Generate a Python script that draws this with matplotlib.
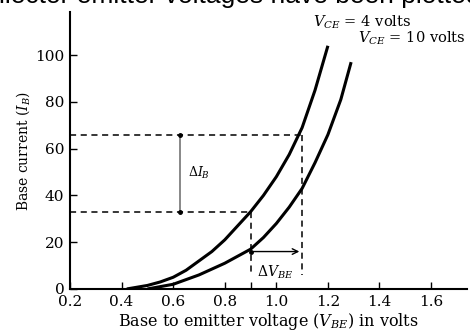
import matplotlib
matplotlib.use("Agg")
import matplotlib.pyplot as plt

# data
vbe_4 = [0.42, 0.50, 0.55, 0.60, 0.65, 0.70, 0.75, 0.80, 0.85, 0.90, 0.95, 1.00, 1.05, 1.10, 1.15, 1.20]
ib_4 = [0, 1.5, 3, 5, 8, 12, 16, 21, 27, 33, 40, 48, 57.5, 69, 85, 104]
vbe_10 = [0.50, 0.55, 0.60, 0.65, 0.70, 0.75, 0.80, 0.85, 0.90, 0.95, 1.00, 1.05, 1.10, 1.15, 1.20, 1.25, 1.29]
ib_10 = [0, 1, 2, 4, 6, 8.5, 11, 14, 17, 22, 28, 35, 43, 54, 66, 81, 97]
x_ticks = [0.2, 0.4, 0.6, 0.8, 1.0, 1.2, 1.4, 1.6]
x_tick_labels = ["0.2", "0.4", "0.6", "0.8", "1.0", "1.2", "1.4", "1.6"]
y_ticks = [0, 20, 40, 60, 80, 100]
y_tick_labels = ["0", "20", "40", "60", "80", "100"]
v_lo, v_hi = 0.9, 1.1
ib_lo, ib_hi = 33, 66
ib_arrow = 16
x_delta_ib = 0.627

plt.rcParams['font.family'] = ['DejaVu Serif']
plt.rcParams['mathtext.fontset'] = 'dejavuserif'

fig = plt.figure(figsize=(4.7, 3.36), dpi=100)
ax = fig.add_axes([0.149, 0.140, 0.845, 0.824])

fig.text(-0.155, 0.99, "the collector emitter voltages have been plotted",
         family='Liberation Sans', fontsize=19, va='baseline', ha='left')

ax.plot(vbe_4, ib_4, color='black', lw=2.2, solid_capstyle='butt')
ax.plot(vbe_10, ib_10, color='black', lw=2.2, solid_capstyle='butt')

dash = dict(color='black', lw=1.1, ls=(0, (4, 3)))
ax.plot([0.2, v_hi], [ib_hi, ib_hi], **dash)
ax.plot([0.2, v_lo], [ib_lo, ib_lo], **dash)
ax.plot([v_hi, v_hi], [ib_hi, 6], **dash)
ax.plot([v_lo, v_lo], [ib_lo, 6], **dash)

# delta I_B arrow
ax.plot([x_delta_ib, x_delta_ib], [ib_lo, ib_hi], color='#888888', lw=1.4)
ax.plot([x_delta_ib, x_delta_ib], [ib_lo, ib_hi], 'o', color='black', ms=2.5)
ax.text(x_delta_ib + 0.03, (ib_lo + ib_hi) / 2, r"$\Delta I_B$", fontsize=9, va='center', ha='left')

# delta V_BE arrow
ax.annotate("", xy=(v_hi, ib_arrow), xytext=(v_lo, ib_arrow),
            arrowprops=dict(arrowstyle='->', color='black', lw=1.0))
ax.plot([v_lo], [ib_arrow], 'o', color='black', ms=2.5)
ax.text(v_lo + 0.025, 7, r"$\Delta V_{BE}$", fontsize=10, va='center', ha='left')

ax.text(1.144, 114, r"$V_{CE}$ = 4 volts", fontsize=10.5, va='center', ha='left')
ax.text(1.315, 107, r"$V_{CE}$ = 10 volts", fontsize=10.5, va='center', ha='left')

ax.set_xlim(0.2, 1.74)
ax.set_ylim(0, 118.4)
ax.set_xticks(x_ticks)
ax.set_xticklabels(x_tick_labels)
ax.set_yticks(y_ticks)
ax.set_yticklabels(y_tick_labels)
ax.set_xticks([v_lo], minor=True)
ax.tick_params(which='both', direction='in', length=5, width=1, labelsize=11, pad=4)
ax.spines['top'].set_visible(False)
ax.spines['right'].set_visible(False)
for s in ('left', 'bottom'):
    ax.spines[s].set_linewidth(1.5)

ax.set_xlabel(r"Base to emitter voltage ($V_{BE}$) in volts", fontsize=11.5, labelpad=2)
ax.set_ylabel(r"Base current ($I_B$)", fontsize=10, labelpad=2)

fig.savefig("out.png", dpi=100)
